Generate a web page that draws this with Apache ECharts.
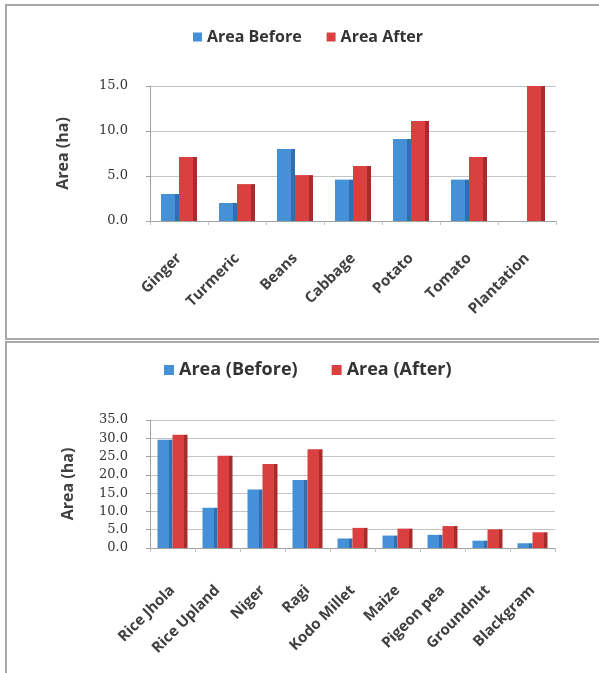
<!DOCTYPE html>
<html>
<head>
<meta charset="utf-8">
<script src="https://cdn.jsdelivr.net/npm/echarts@6/dist/echarts.min.js"></script>
<style>
html,body{margin:0;padding:0;background:#fff;}
#c{width:599px;height:673px;}
</style>
</head>
<body>
<div id="c"></div>
<script>
// ---- Top chart data ----
const topCategories = ['Ginger', 'Turmeric', 'Beans', 'Cabbage', 'Potato', 'Tomato', 'Plantation'];
const topBefore = [3.0, 2.0, 8.0, 4.6, 9.1, 4.6, null];
const topAfter = [7.1, 4.1, 5.1, 6.1, 11.1, 7.1, 15.0];
const topLegend = ['Area Before', 'Area After'];

// ---- Bottom chart data ----
const botCategories = ['Rice Jhola', 'Rice Upland', 'Niger', 'Ragi', 'Kodo Millet', 'Maize', 'Pigeon pea', 'Groundnut', 'Blackgram'];
const botBefore = [29.6, 11.0, 16.0, 18.6, 2.6, 3.4, 3.6, 2.0, 1.3];
const botAfter = [31.0, 25.2, 23.0, 27.0, 5.5, 5.3, 6.0, 5.1, 4.3];
const botLegend = ['Area (Before)', 'Area (After)'];

const BLUE = '#4690d8';
const RED = '#d9403f';
function shade(c, dark) {
  return {
    type: 'linear', x: 0, y: 0, x2: 1, y2: 0,
    colorStops: [
      {offset: 0, color: c}, {offset: 0.76, color: c},
      {offset: 0.77, color: dark}, {offset: 1, color: dark}
    ]
  };
}
const serif = '"DejaVu Serif", "Liberation Serif", serif';
const sans = '"Open Sans", "Liberation Sans", sans-serif';

const chart = echarts.init(document.getElementById('c'), null, {renderer: 'canvas'});

function yAxisDef(gridIndex, max, nameGap) {
  return {
    type: 'value', gridIndex: gridIndex, min: 0, max: max, interval: 5,
    name: 'Area (ha)', nameLocation: 'middle', nameGap: nameGap,
    nameTextStyle: {fontFamily: sans, fontSize: 16, fontWeight: 'bold', color: '#404040'},
    axisLine: {show: true, lineStyle: {color: '#a0a0a0'}},
    axisTick: {show: true, length: 4, lineStyle: {color: '#a0a0a0'}},
    splitLine: {show: true, lineStyle: {color: '#c4c4c4', width: 1}},
    axisLabel: {fontFamily: serif, fontSize: 13, color: '#333', margin: 22,
      formatter: v => v.toFixed(1)}
  };
}
function xAxisDef(gridIndex, data, fs, margin) {
  return {
    type: 'category', gridIndex: gridIndex, data: data,
    axisLine: {show: true, lineStyle: {color: '#a0a0a0'}},
    axisTick: {show: true, length: 4, lineStyle: {color: '#c0c0c0'}},
    axisLabel: {rotate: 45, interval: 0, fontFamily: sans, fontSize: fs, fontWeight: 'bold', color: '#404040', margin: margin}
  };
}

const option = {
  animation: false,
  backgroundColor: '#fff',
  color: [BLUE, RED],
  graphic: [
    {type: 'rect', shape: {x: 6, y: 5, width: 620, height: 334}, style: {fill: 'none', stroke: '#a8a8a8', lineWidth: 2}, silent: true, z: -1},
    {type: 'rect', shape: {x: 6, y: 342, width: 620, height: 400}, style: {fill: 'none', stroke: '#a8a8a8', lineWidth: 2}, silent: true, z: -1}
  ],
  legend: [
    {
      data: [{name: topLegend[0], itemStyle: {color: BLUE}}, {name: topLegend[1], itemStyle: {color: RED}}],
      top: 24, left: 188, itemWidth: 9, itemHeight: 9, itemGap: 25,
      icon: 'rect',
      textStyle: {fontFamily: sans, fontSize: 16, fontWeight: 'bold', color: '#333'}
    },
    {
      data: [{name: botLegend[0], itemStyle: {color: BLUE}}, {name: botLegend[1], itemStyle: {color: RED}}],
      top: 356, left: 159, itemWidth: 10, itemHeight: 10, itemGap: 34,
      icon: 'rect',
      textStyle: {fontFamily: sans, fontSize: 18, fontWeight: 'bold', color: '#333'}
    }
  ],
  grid: [
    {left: 150, width: 406, top: 86, height: 135},
    {left: 150, width: 405, top: 420, height: 128}
  ],
  xAxis: [
    xAxisDef(0, topCategories, 15, 35),
    xAxisDef(1, botCategories, 15, 40)
  ],
  yAxis: [
    yAxisDef(0, 15, 79),
    yAxisDef(1, 35, 74)
  ],
  series: [
    {name: topLegend[0], type: 'bar', xAxisIndex: 0, yAxisIndex: 0, data: topBefore,
      barWidth: 18, barGap: '0%', itemStyle: {color: shade(BLUE, '#2f6fb2')}},
    {name: topLegend[1], type: 'bar', xAxisIndex: 0, yAxisIndex: 0, data: topAfter,
      barWidth: 18, barGap: '0%', itemStyle: {color: shade(RED, '#a82c2b')}},
    {name: botLegend[0], type: 'bar', xAxisIndex: 1, yAxisIndex: 1, data: botBefore,
      barWidth: 15, barGap: '0%', itemStyle: {color: shade(BLUE, '#2f6fb2')}},
    {name: botLegend[1], type: 'bar', xAxisIndex: 1, yAxisIndex: 1, data: botAfter,
      barWidth: 15, barGap: '0%', itemStyle: {color: shade(RED, '#a82c2b')}}
  ]
};
chart.setOption(option);
</script>
</body>
</html>
